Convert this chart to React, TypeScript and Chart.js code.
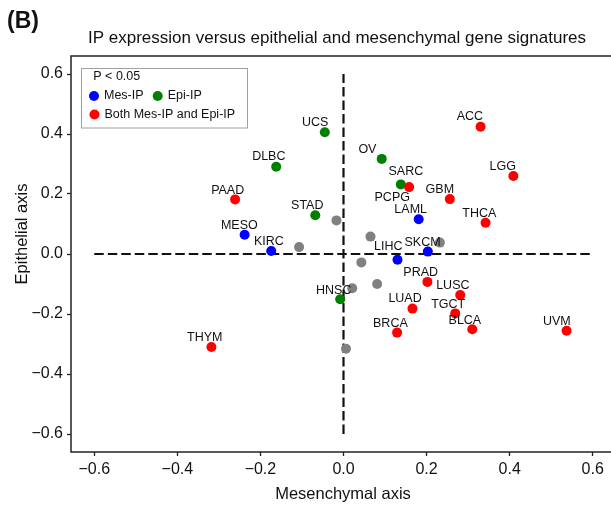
import React, { useEffect, useRef } from "react";
import { Chart, registerables } from "chart.js";

Chart.register(...registerables);

// ---- data ----
const CANCER_TYPES = [
  "UCS", "DLBC", "PAAD", "STAD", "MESO", "KIRC", "ACC", "OV", "LGG", "PCPG",
  "SARC", "GBM", "LAML", "THCA", "SKCM", "LIHC", "HNSC", "PRAD", "LUAD", "BRCA",
  "THYM", "LUSC", "TGCT", "BLCA", "UVM",
  "", "", "", "", "", "", "", "",
];
const GROUPS = [
  "epi", "epi", "both", "epi", "mes", "mes", "both", "epi", "both", "epi",
  "both", "both", "mes", "both", "mes", "mes", "epi", "both", "both", "both",
  "both", "both", "both", "both", "both",
  "none", "none", "none", "none", "none", "none", "none", "none",
];
const MES_AXIS = [
  -0.045, -0.162, -0.261, -0.068, -0.238, -0.174, 0.330, 0.092, 0.409, 0.138,
  0.158, 0.256, 0.181, 0.342, 0.203, 0.130, -0.008, 0.202, 0.166, 0.129,
  -0.318, 0.281, 0.269, 0.310, 0.537,
  -0.017, -0.107, 0.065, 0.232, 0.043, 0.081, 0.021, 0.006,
];
const EPI_AXIS = [
  0.406, 0.291, 0.182, 0.129, 0.064, 0.010, 0.424, 0.317, 0.260, 0.232,
  0.223, 0.183, 0.116, 0.104, 0.008, -0.019, -0.151, -0.093, -0.182, -0.262,
  -0.310, -0.137, -0.198, -0.251, -0.256,
  0.112, 0.023, 0.058, 0.038, -0.028, -0.100, -0.114, -0.316,
];
const X_TICKS = [-0.6, -0.4, -0.2, 0.0, 0.2, 0.4, 0.6];
const Y_TICKS = [-0.6, -0.4, -0.2, 0.0, 0.2, 0.4, 0.6];
const H_REF_LINE = [{ x: -0.6, y: 0 }, { x: 0.6, y: 0 }];
const V_REF_LINE = [{ x: 0, y: -0.6 }, { x: 0, y: 0.6 }];

const LEGEND_TITLE = "P < 0.05";
const LEGEND_LABELS = ["Mes-IP", "Epi-IP", "Both Mes-IP and Epi-IP"];
const TITLE = "IP expression versus epithelial and mesenchymal gene signatures";
const PANEL = "(B)";
const X_TITLE = "Mesenchymal axis";
const Y_TITLE = "Epithelial axis";

// ---- styles ----
const COLORS: Record<string, string> = {
  mes: "#0000ff",
  epi: "#008000",
  both: "#ff0000",
  none: "#808080",
};
// label text-centre offsets (px) relative to the point
const LABEL_OFFSETS: Record<string, [number, number]> = {
  UCS: [-9.6, -9.6], DLBC: [-7.4, -9.7], PAAD: [-7.4, -9.3], STAD: [-8, -10],
  MESO: [-5.3, -9.4], KIRC: [-2.3, -9], ACC: [-10.7, -10], OV: [-14.3, -9],
  LGG: [-10.7, -9.3], PCPG: [-8.6, 13], SARC: [-3.3, -16], GBM: [-10, -9.7],
  LAML: [-8, -10], THCA: [-6.3, -9.4], SKCM: [-5.3, -9], LIHC: [-9.3, -13],
  HNSC: [-6.4, -9], PRAD: [-6.7, -9.3], LUAD: [-7.4, -9.7], BRCA: [-6.7, -9.4],
  THYM: [-6.7, -9.3], LUSC: [-7.4, -9.7], TGCT: [-7, -9], BLCA: [-7.4, -9],
  UVM: [-9.7, -9.7],
};
const FONT = "'Liberation Sans', Arial, sans-serif";
const TEXT = "#111";
const W = 621;
const H = 507;

function fmt(v: number) {
  const s = (Math.round(v * 10) / 10).toFixed(1);
  return s.startsWith("-") ? "\u2212" + s.slice(1) : s;
}

const decorPlugin = {
  id: "decor",
  beforeDatasetsDraw(chart: any) {
    const { ctx, chartArea: a } = chart;
    ctx.save();
    ctx.strokeStyle = "#222";
    ctx.lineWidth = 1.5;
    ctx.strokeRect(a.left, a.top, a.right - a.left, a.bottom - a.top);
    ctx.restore();
  },
  afterDatasetsDraw(chart: any) {
    const { ctx, scales } = chart;
    ctx.save();
    // point labels
    ctx.fillStyle = TEXT;
    ctx.font = `12.5px ${FONT}`;
    ctx.textAlign = "center";
    ctx.textBaseline = "middle";
    CANCER_TYPES.forEach((name, i) => {
      if (!name) return;
      const px = scales.x.getPixelForValue(MES_AXIS[i]);
      const py = scales.y.getPixelForValue(EPI_AXIS[i]);
      const off = LABEL_OFFSETS[name] || [-7, -9.5];
      ctx.fillText(name, px + off[0], py + off[1]);
    });

    // legend
    const lx = 81.5, ly = 68.5, lw = 166, lh = 59.5;
    ctx.fillStyle = "#fff";
    ctx.fillRect(lx, ly, lw, lh);
    ctx.strokeStyle = "#a0a0a0";
    ctx.lineWidth = 1;
    ctx.strokeRect(lx, ly, lw, lh);
    ctx.fillStyle = TEXT;
    ctx.textAlign = "left";
    ctx.font = `12.5px ${FONT}`;
    ctx.fillText(LEGEND_TITLE, 93.3, 77);
    const items: [string, string, number, number][] = [
      [LEGEND_LABELS[0], COLORS.mes, 94, 96],
      [LEGEND_LABELS[1], COLORS.epi, 157.7, 96],
      [LEGEND_LABELS[2], COLORS.both, 94.5, 114.5],
    ];
    items.forEach(([label, color, x, y]) => {
      ctx.beginPath();
      ctx.fillStyle = color;
      ctx.arc(x, y, 5, 0, Math.PI * 2);
      ctx.fill();
      ctx.fillStyle = TEXT;
      ctx.fillText(label, x + 10, y);
    });

    // titles
    ctx.textAlign = "center";
    ctx.font = `17px ${FONT}`;
    ctx.textBaseline = "alphabetic";
    ctx.fillText(TITLE, 337, 42.5);
    ctx.textAlign = "left";
    ctx.font = `bold 23px ${FONT}`;
    ctx.textBaseline = "middle";
    ctx.fillText(PANEL, 7, 22);
    ctx.font = `16.5px ${FONT}`;
    ctx.textAlign = "center";
    ctx.fillText(X_TITLE, 343, 494);
    ctx.translate(22, 234);
    ctx.rotate(-Math.PI / 2);
    ctx.fillText(Y_TITLE, 0, 0);
    ctx.restore();
  },
};

export default function App() {
  const ref = useRef<HTMLCanvasElement | null>(null);
  useEffect(() => {
    if (!ref.current) return;
    const groupData = (g: string) =>
      MES_AXIS.map((x, i) => ({ x, y: EPI_AXIS[i], g: GROUPS[i] }))
        .filter((p) => p.g === g)
        .map(({ x, y }) => ({ x, y }));
    const pointDs = (g: string, order: number) => ({
      type: "scatter" as const,
      data: groupData(g),
      backgroundColor: COLORS[g],
      borderWidth: 0,
      pointRadius: 5,
      pointHoverRadius: 5,
      order,
    });
    const lineDs = (data: any) => ({
      type: "scatter" as const,
      data,
      showLine: true,
      borderColor: "#111",
      borderWidth: 2.2,
      borderDash: [9.5, 4],
      pointRadius: 0,
      order: 10,
    });
    const axisCommon = {
      type: "linear" as const,
      min: -0.656,
      max: 0.656,
      border: { display: false },
      grid: {
        display: true,
        drawOnChartArea: false,
        drawTicks: true,
        tickLength: 4,
        tickColor: "#222",
        tickWidth: 1.3,
      },
      ticks: {
        includeBounds: false,
        autoSkip: false,
        maxRotation: 0,
        color: TEXT,
        font: { family: FONT, size: 16 },
        padding: 4,
        callback: (v: any) => fmt(Number(v)),
      },
    };
    const chart = new Chart(ref.current, {
      type: "scatter",
      data: {
        datasets: [
          lineDs(H_REF_LINE),
          lineDs(V_REF_LINE),
          pointDs("none", 4),
          pointDs("epi", 3),
          pointDs("mes", 2),
          pointDs("both", 1),
        ] as any,
      },
      options: {
        responsive: false,
        animation: false,
        events: [],
        layout: { padding: { top: 56, left: 0, right: 0, bottom: 0 } },
        plugins: { legend: { display: false }, title: { display: false }, tooltip: { enabled: false } },
        scales: {
          x: {
            ...axisCommon,
            afterBuildTicks: (s: any) => {
              s.ticks = X_TICKS.map((value) => ({ value }));
            },
            afterFit: (s: any) => {
              s.height = 55;
            },
          },
          y: {
            ...axisCommon,
            min: -0.66,
            max: 0.66,
            afterBuildTicks: (s: any) => {
              s.ticks = Y_TICKS.map((value) => ({ value }));
            },
            afterFit: (s: any) => {
              s.width = 71;
            },
          },
        },
      } as any,
      plugins: [decorPlugin],
    });
    return () => chart.destroy();
  }, []);
  return (
    <div style={{ position: "fixed", left: 0, top: 0, width: 611, height: H, overflow: "hidden", background: "#fff" }}>
      <canvas ref={ref} width={W} height={H} style={{ width: W, height: H, display: "block" }} />
    </div>
  );
}
